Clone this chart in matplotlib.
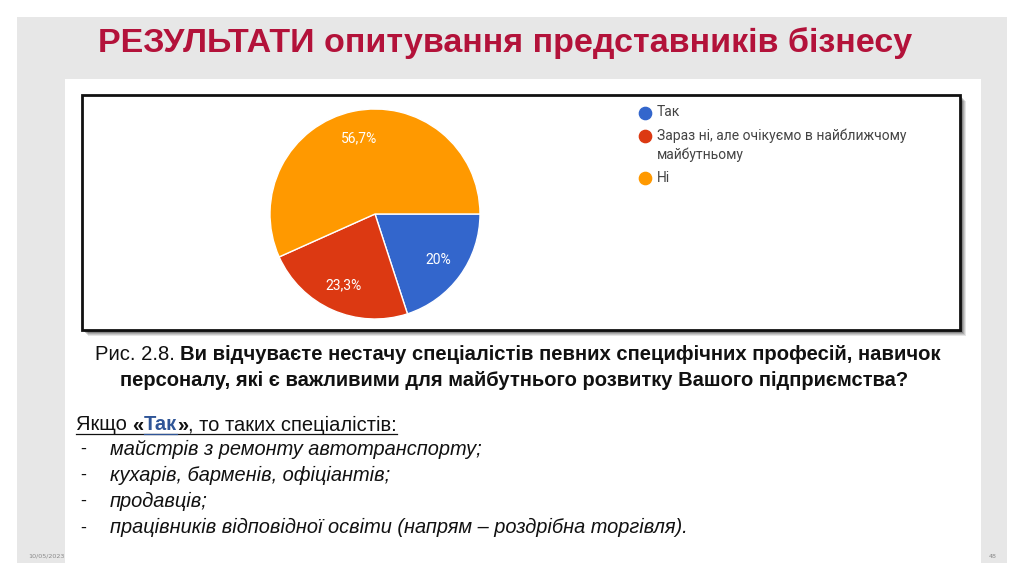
import matplotlib
matplotlib.use("Agg")
import matplotlib.pyplot as plt
from matplotlib.patches import Rectangle

# survey answers
labels = ["Так", "Зараз ні, але очікуємо в найближчому\nмайбутньому", "Ні"]
shares = [20.0, 23.3, 56.7]
colors = ["#3366cc", "#dc3912", "#ff9900"]

title = "РЕЗУЛЬТАТИ опитування представників бізнесу"
fig_prefix = "Рис. 2.8. "
question = ["Ви відчуваєте нестачу спеціалістів певних специфічних професій, навичок",
            "персоналу, які є важливими для майбутнього розвитку Вашого підприємства?"]
specialists = ["майстрів з ремонту автотранспорту;",
               "кухарів, барменів, офіціантів;",
               "продавців;",
               "працівників відповідної освіти (напрям – роздрібна торгівля)."]
date_text = "10/05/2023"
page_no = "48"

W, H = 1024, 581
fig = plt.figure(figsize=(W / 100, H / 100), dpi=100)
bg = fig.add_axes([0, 0, 1, 1])
bg.set_xlim(0, W)
bg.set_ylim(H, 0)
bg.axis("off")
r = fig.canvas.get_renderer()

def width(t):
    return t.get_window_extent(r).width

def fit(t, target):
    t.set_fontsize(t.get_fontsize() * target / width(t))

def place(ts, x, center=False):
    ws = [width(t) for t in ts]
    if center:
        x = x - sum(ws) / 2
    for t, w in zip(ts, ws):
        t.set_x(x)
        x += w
    return x

def run(x, y, pieces, center=False, **kw):
    # draw pieces of text side by side
    ts = [bg.text(0, y, s, va="center", ha="left", **{**kw, **p}) for s, p in pieces]
    return ts, place(ts, x, center)

# slide background
bg.add_patch(Rectangle((17, 17), 990, 546, color="#e7e7e7", lw=0))
bg.add_patch(Rectangle((65, 79), 916, 484, color="white", lw=0))

# chart frame with a soft shadow
for off, a in [(6, 0.10), (5, 0.12), (4, 0.15), (3, 0.2), (2, 0.3)]:
    bg.add_patch(Rectangle((82 + off, 95 + off), 878, 235, color="black", alpha=a, lw=0))
bg.add_patch(Rectangle((82, 95), 878, 235, fc="white", ec="#111111", lw=2))

# title
t = bg.text(505, 43, title, ha="center", va="center", color="#b3123a",
            fontsize=24, fontweight="bold", family="Liberation Sans")
fit(t, 815)

# pie
def pct(p):
    p = round(p, 1)
    s = f"{p:.0f}" if p == int(p) else f"{p:.1f}".replace(".", ",")
    return s + "%"

ax = fig.add_axes([270 / W, 1 - 319 / H, 210 / W, 210 / H])
ax.pie(shares, colors=colors, startangle=0, counterclock=False, autopct=pct,
       pctdistance=0.74, wedgeprops=dict(edgecolor="white", linewidth=1),
       textprops=dict(color="white", fontsize=10, family="Roboto"))
ax.set_xlim(-1, 1)
ax.set_ylim(-1, 1)
ax.set_aspect("equal")

# legend
leg_y = [113, 136, 178]
for lab, c, y in zip(labels, colors, leg_y):
    bg.scatter([645], [y], s=78, color=c, zorder=3)
    bg.text(657, y - 7.5, lab, ha="left", va="top", fontsize=10, color="#444444",
            family="Roboto", linespacing=1.4)

# caption
fam = "Liberation Sans"
ts, _ = run(508, 355, [(fig_prefix, {}), (question[0], {"fontweight": "bold"})],
            center=True, fontsize=13, family=fam, color="#111111")
tot = sum(width(t) for t in ts)
for t in ts:
    t.set_fontsize(t.get_fontsize() * 845 / tot)
place(ts, 518, center=True)
t2 = bg.text(514, 381, question[1], ha="center", va="center", fontsize=13,
             fontweight="bold", family=fam, color="#111111")
fit(t2, 786)

# answers list
ts, xe = run(76, 425, [("Якщо ", {}), ("«", {"fontweight": "bold"}),
                       ("Так", {"fontweight": "bold", "color": "#2f5597"}),
                       ("»", {"fontweight": "bold"}), (", то таких спеціалістів:", {})],
             fontsize=12.5, family=fam, color="#111111")
tot = sum(width(t) for t in ts)
for t in ts:
    t.set_fontsize(t.get_fontsize() * 322 / tot)
xe = place(ts, 76)
bg.plot([76, xe], [434, 434], color="#111111", lw=0.9)
x0 = ts[2].get_position()[0]
bg.plot([x0, x0 + width(ts[2])], [434, 434], color="#2f5597", lw=0.9)

items = []
for i, s in enumerate(specialists):
    y = 449 + i * 26.3
    bg.text(80, y, "-", ha="left", va="center", fontsize=13, family=fam, color="#111111")
    items.append(bg.text(110, y, s, ha="left", va="center", fontsize=12.5, family=fam,
                         style="italic", color="#111111"))
k = 577 / width(items[-1])
for t in items:
    t.set_fontsize(t.get_fontsize() * k)

# footer
bg.text(28, 556, date_text, ha="left", va="center", fontsize=4.6, color="#8a8a8a")
bg.text(993, 556, page_no, ha="center", va="center", fontsize=4.6, color="#8a8a8a")

fig.savefig("out.png", dpi=100)
